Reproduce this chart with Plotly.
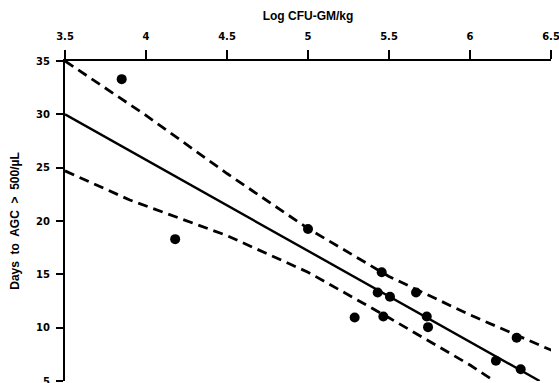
import plotly.graph_objects as go

# Observed patients: log CFU-GM dose vs days to neutrophil recovery
log_cfu = [3.85, 4.18, 5.00, 5.455, 5.43, 5.506, 5.667, 5.288, 5.465, 5.733, 5.741, 6.288, 6.16, 6.313]
days = [33.3, 18.3, 19.25, 15.2, 13.3, 12.9, 13.3, 10.95, 11.05, 11.05, 10.05, 9.05, 6.9, 6.1]

# Fitted regression line
fit_x = [3.5, 6.43]
fit_y = [30.0, 5.0]

# Confidence band
upper_x = [3.5, 4.0, 4.5, 5.0, 5.5, 6.0, 6.5, 6.56]
upper_y = [35.0, 29.9, 24.45, 19.3, 14.8, 11.2, 7.9, 7.55]
lower_x = [3.5, 3.9, 4.5, 5.0, 5.5, 6.0, 6.15]
lower_y = [24.7, 21.97, 18.63, 15.2, 10.93, 6.5, 5.0]

x_ticks = [3.5, 4, 4.5, 5, 5.5, 6, 6.5]
x_tick_text = ["3.5", "4", "4.5", "5", "5.5", "6", "6.5"]
y_ticks = [5, 10, 15, 20, 25, 30, 35]

dash_style = dict(color="black", width=2.8, dash="10px,6px")

fig = go.Figure()
fig.add_trace(go.Scatter(x=upper_x, y=upper_y, mode="lines", line=dash_style, hoverinfo="skip"))
fig.add_trace(go.Scatter(x=lower_x, y=lower_y, mode="lines", line=dash_style, hoverinfo="skip"))
fig.add_trace(go.Scatter(x=fit_x, y=fit_y, mode="lines", line=dict(color="black", width=2.4)))
fig.add_trace(go.Scatter(x=log_cfu, y=days, mode="markers",
                         marker=dict(color="black", size=10, line=dict(width=0))))

title_font = "Liberation Sans, Arial, sans-serif"
tick_font = "DejaVu Sans, sans-serif"

fig.update_layout(
    width=559, height=383,
    margin=dict(l=65, r=8, t=61, b=2, autoexpand=False),
    plot_bgcolor="white", paper_bgcolor="white",
    showlegend=False,
    font=dict(family=title_font, color="black", size=10),
    xaxis=dict(
        side="top", range=[3.5, 6.5], tickvals=x_ticks, ticktext=x_tick_text,
        showgrid=False, zeroline=False, automargin=False,
        showline=True, linecolor="black", linewidth=2,
        ticks="outside", ticklen=9, tickwidth=1.5, tickcolor="black",
        ticklabelstandoff=6, ticklabeloverflow="allow",
        tickfont=dict(size=10, weight="bold", family=tick_font),
        title=dict(text="Log CFU-GM/kg", standoff=8,
                   font=dict(size=12, weight="bold", family=title_font)),
    ),
    yaxis=dict(
        range=[5, 35], tickvals=y_ticks,
        showgrid=False, zeroline=False, automargin=False,
        showline=True, linecolor="black", linewidth=2.2,
        ticks="outside", ticklen=7, tickwidth=1.5, tickcolor="black",
        ticklabelstandoff=4, ticklabeloverflow="allow",
        tickfont=dict(size=10, weight="bold", family=tick_font),
        title=dict(text="Days  to  AGC  >  500/µL", standoff=14,
                   font=dict(size=12, weight="bold", family=title_font)),
    ),
)

fig.write_html("out.html")
